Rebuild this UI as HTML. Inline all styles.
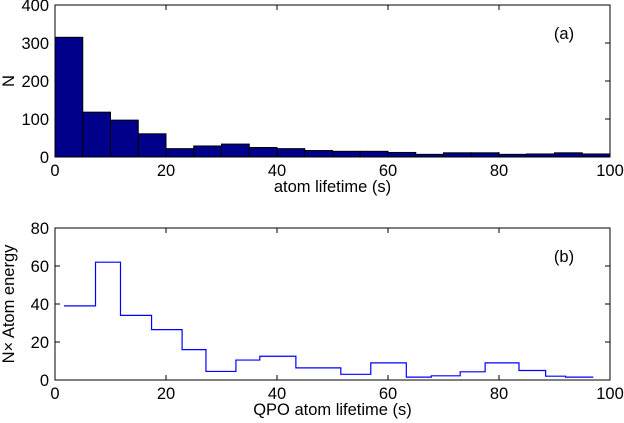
<!DOCTYPE html>
<html><head><meta charset="utf-8"><style>
body{margin:0;background:#fff}
svg{display:block;font-family:"Liberation Sans",Arial,sans-serif}
</style></head><body>
<svg id="c" width="624" height="423" viewBox="0 0 624 423"></svg>
<script>
const histCounts=[315,118,97,61,22,29,34,25,22,17,15,15,12,7,11,11,7,8,11,8];
const histBinWidth=5;
const xTicks=[0,20,40,60,80,100];
const topYTicks=[0,100,200,300,400];
const stepEdges=[1.6,7.3,11.8,17.4,22.9,27.2,32.6,36.9,43.4,51.5,56.9,63.3,67.8,73.0,77.5,83.6,88.4,92,97];
const stepValues=[39,62,34,26.5,16,4.5,10.5,12.5,6.4,3,9,1.5,2.2,4.3,9,5,2,1.5];
const botYTicks=[0,20,40,60,80];

const NS="http://www.w3.org/2000/svg";
const svg=document.getElementById('c');
function mk(t,a,p){const e=document.createElementNS(NS,t);for(const k in a)e.setAttribute(k,a[k]);(p||svg).appendChild(e);return e;}
const L=55,R=610,FS=16.5;
const sx=v=>L+(v-0)/100*(R-L);
function axes(top,bot,ymax,yt,name,xlabel,ylabel,tag){
  const sy=v=>bot-(v/ymax)*(bot-top);
  const g=mk('g',{});
  
  
  for(const t of xTicks){
    const x=sx(t);
    mk('line',{x1:x,y1:bot,x2:x,y2:bot-5,stroke:'#000'},g);
    mk('line',{x1:x,y1:top,x2:x,y2:top+5,stroke:'#000'},g);
    const tx=mk('text',{x:x,y:bot+19,'text-anchor':'middle','font-size':FS},g);tx.textContent=t;
    
    
  }
  for(const t of yt){
    const y=sy(t);
    mk('line',{x1:L,y1:y,x2:L+5,y2:y,stroke:'#000'},g);
    mk('line',{x1:R,y1:y,x2:R-5,y2:y,stroke:'#000'},g);
    const tx=mk('text',{x:L-6,y:y+6,'text-anchor':'end','font-size':FS},g);tx.textContent=t;
    
    
  }
  const xl=mk('text',{x:(L+R)/2,y:bot+35,'text-anchor':'middle','font-size':FS},g);xl.textContent=xlabel;
  
  
  const yl=mk('text',{x:0,y:0,'text-anchor':'middle','font-size':FS,transform:`translate(14,${(top+bot)/2}) rotate(-90)`},g);yl.textContent=ylabel;
  
  
  const tg=mk('text',{x:564,y:top+34,'text-anchor':'middle','font-size':FS},g);tg.textContent=tag;
  
  
  return sy;
}
// top
const t0=5,b0=157;
const sy1=axes(t0,b0,400,topYTicks,'histogram-axes','atom lifetime (s)','N','(a)');
histCounts.forEach((c,i)=>{
  const x0=sx(i*histBinWidth),x1=sx((i+1)*histBinWidth);
  const r=mk('rect',{x:x0,y:sy1(c),width:x1-x0,height:b0-sy1(c),fill:'#00008b',stroke:'#000','stroke-width':1});
  
  
});
const f1=mk('rect',{x:L,y:t0,width:R-L,height:b0-t0,fill:'none',stroke:'#000'});


// bottom
const t1=228,b1=380;
const sy2=axes(t1,b1,80,botYTicks,'step-axes','QPO atom lifetime (s)','N\u00d7 Atom energy','(b)');
let d='';
stepValues.forEach((v,i)=>{
  const x0=sx(stepEdges[i]),x1=sx(stepEdges[i+1]),y=sy2(v);
  d+=(i===0?`M${x0},${y}`:`L${x0},${y}`)+`L${x1},${y}`;
});
const p=mk('path',{d:d,fill:'none',stroke:'#0000ff','stroke-width':1.2});


const f2=mk('rect',{x:L,y:t1,width:R-L,height:b1-t1,fill:'none',stroke:'#000'});


</script>
</body></html>
